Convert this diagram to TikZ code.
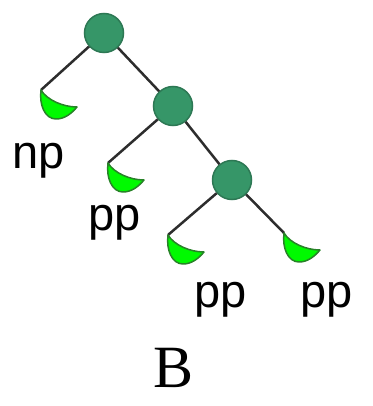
\documentclass[tikz,border=0pt]{standalone}
\usepackage{fontspec}
\usetikzlibrary{calc}
\setmainfont{Liberation Sans}
\newfontfamily\serifB{Liberation Serif}
\definecolor{nodegreen}{RGB}{54,150,104}
\definecolor{nodeedge}{RGB}{45,120,84}
\definecolor{leafgreen}{RGB}{0,250,0}
\definecolor{leafedge}{RGB}{40,130,40}
\definecolor{linegray}{RGB}{45,45,45}
\begin{document}
\begin{tikzpicture}[x=1pt,y=-1pt,
  inner/.style={circle,draw=nodeedge,fill=nodegreen,line width=1.5pt,minimum size=39pt,inner sep=0pt},
  edge/.style={draw=linegray,line width=2.5pt},
  leaf/.style={draw=leafedge,fill=leafgreen,line width=1.5pt,line join=round},
  lab/.style={anchor=base,inner sep=0pt,font=\fontsize{47}{50}\selectfont}
]
\useasboundingbox (0,0) rectangle (372,406);
\node[inner] (r) at (104,33) {};
\node[inner] (c2) at (173,106) {};
\node[inner] (c3) at (232,180) {};
\coordinate (l1) at (41,90);
\coordinate (l2) at (108,163);
\coordinate (l3) at (168,235);
\coordinate (l4) at (284,233);
\draw[edge] (r) -- (l1);
\draw[edge] (r) -- (c2);
\draw[edge] (c2) -- (l2);
\draw[edge] (c2) -- (c3);
\draw[edge] (c3) -- (l3);
\draw[edge] (c3) -- (l4);
\foreach \l in {l1,l2,l3,l4}{
  \draw[leaf] (\l) .. controls ($(\l)+(-2,15)$) and ($(\l)+(4,29)$) .. ($(\l)+(15,29)$)
     .. controls ($(\l)+(24,29)$) and ($(\l)+(31,23)$) .. ($(\l)+(36,17)$)
     .. controls ($(\l)+(22,17)$) and ($(\l)+(6,10)$) .. cycle;
}
\node[lab] (t1) at (39,168) {np};
\node[lab] (t2) at (115,230) {pp};
\node[lab] (t3) at (221,307) {pp};
\node[lab] (t4) at (327,307) {pp};
\node[anchor=base,inner sep=0pt,font=\serifB\fontsize{60}{62}\selectfont] (tb) at (174,387) {B};
\end{tikzpicture}
\end{document}
